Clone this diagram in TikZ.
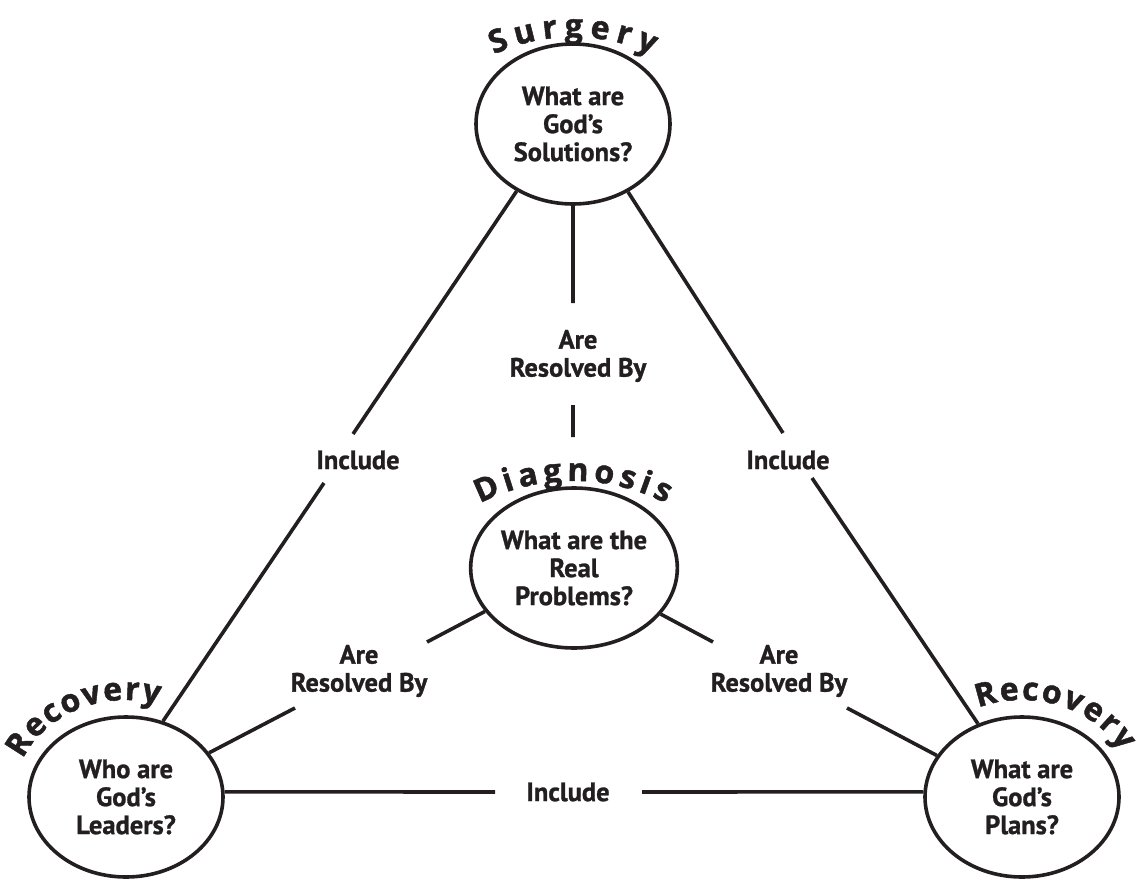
\documentclass[tikz,border=0pt]{standalone}
\usepackage{fontspec}
\setmainfont{PT Sans}[BoldFeatures={FakeBold=1}]
\newfontfamily\arcfamily{Open Sans}[BoldFeatures={FakeBold=1.5}]
\usetikzlibrary{shapes.geometric,decorations.text}
\definecolor{ink}{HTML}{231F20}
\newcommand{\qsfont}{\fontsize{26.5}{28}\selectfont\bfseries}
\newcommand{\arcfont}{\fontsize{32}{34}\selectfont\arcfamily\bfseries}
\tikzset{
    %Define style for the question ellipses
    qnode/.style={
             ellipse,
             draw=ink, line width=3.6pt,
             minimum width=194pt, minimum height=160pt,
             inner sep=0pt, align=center, text=ink,
             font=\qsfont},
    %Define style for the link labels
    lnklabel/.style={
             inner sep=0pt, align=center, text=ink,
             font=\qsfont},
    % Define link line style
    lnkline/.style={
            draw=ink,
            line width=3.6pt},
    % Define curved title style
    arctitle/.style={
            decorate,
            decoration={text along path,
                        text={|\arcfont|#1},
                        text color=ink,
                        text align={fit to path}}}
}

\begin{document}
\begin{tikzpicture}[x=1pt, y=1pt]
 \useasboundingbox (0,0) rectangle (1141,-880);
 % question ellipses
 \node[qnode] (surgery) at (573,-124) {What are\\God’s\\Solutions?};
 \node[qnode] (diagnosis) at (574,-568) {What are the\\Real\\Problems?};
 \node[qnode] (leaders) at (126,-797) {Who are\\God’s\\Leaders?};
 \node[qnode] (plans) at (1022,-797) {What are\\God’s\\Plans?};
 % link labels
 \node[lnklabel] (inclL) at (358,-460) {Include};
 \node[lnklabel] (inclR) at (788,-460) {Include};
 \node[lnklabel] (inclB) at (568,-792) {Include};
 \node[lnklabel] (resT) at (578,-356) {Are\\Resolved By};
 \node[lnklabel] (resL) at (359,-671) {Are\\Resolved By};
 \node[lnklabel] (resR) at (779,-671) {Are\\Resolved By};
 % free ends of the broken lines
 \coordinate (inclLa) at (353,-434);
 \coordinate (inclLb) at (324,-483);
 \coordinate (inclRa) at (783,-433);
 \coordinate (inclRb) at (812,-478);
 \coordinate (resTa) at (573,-303);
 \coordinate (resTb) at (573,-405);
 \coordinate (resTc) at (573,-437);
 \coordinate (resLa) at (427,-642);
 \coordinate (resLb) at (295,-708);
 \coordinate (resRa) at (713,-642);
 \coordinate (resRb) at (847,-708);
 \coordinate (inclBa) at (495,-792);
 \coordinate (inclBb) at (642,-792);
 \draw[lnkline] (surgery.230) -- (inclLa) (inclLb) -- (leaders.64)
                (surgery.309) -- (inclRa) (inclRb) -- (plans.121)
                (surgery.south) -- (resTa) (resTb) -- (resTc)
                (diagnosis.206) -- (resLa) (resLb) -- (leaders.28)
                (diagnosis.332) -- (resRa) (resRb) -- (plans.154)
                (leaders.3) -- (inclBa) (inclBb) -- (plans.177);
 % curved titles
 \path[arctitle=Surgery] (573,-224) ++(115:187) arc[start angle=115, end angle=65, radius=187];
 \path[arctitle=Diagnosis] (573,-686) ++(117:205) arc[start angle=117, end angle=63, radius=205];
 \path[arctitle=Recovery] (leaders.center) ++(157:112 and 97) arc[start angle=157, end angle=73, x radius=112, y radius=97];
 \path[arctitle=Recovery] (plans.center) ++(113:112 and 97) arc[start angle=113, end angle=28, x radius=112, y radius=97];
\end{tikzpicture}
\end{document}
